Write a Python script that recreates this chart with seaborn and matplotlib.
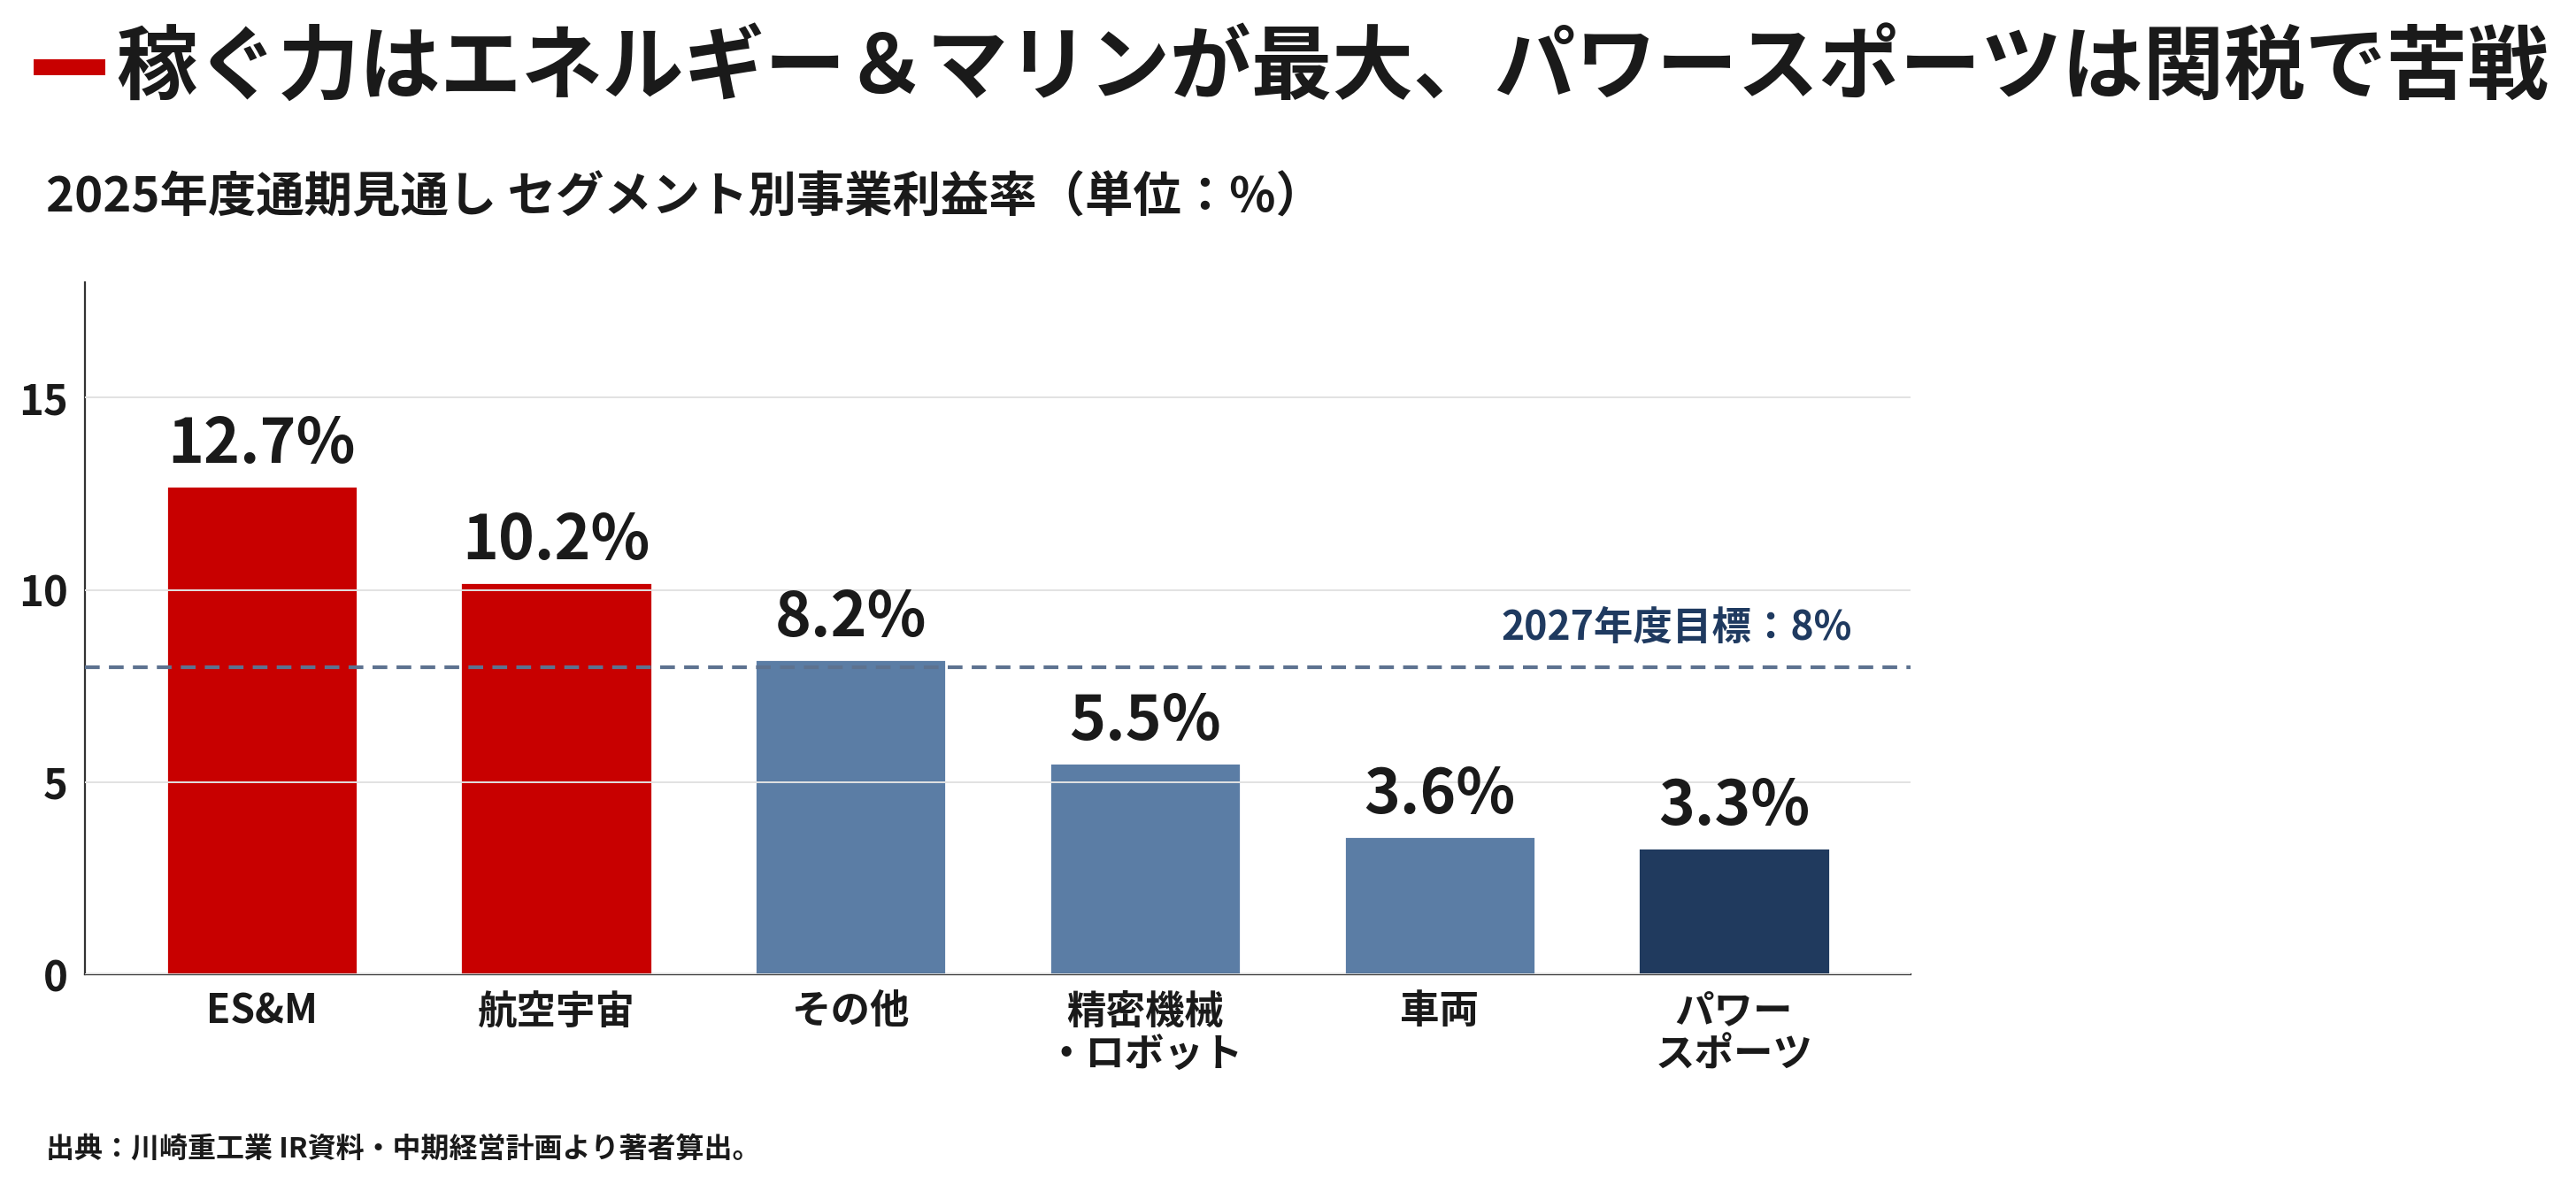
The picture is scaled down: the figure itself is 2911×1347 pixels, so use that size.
import matplotlib
matplotlib.use("Agg")
import matplotlib.pyplot as plt
from matplotlib.patches import Rectangle
import seaborn as sns
import pandas as pd

# data
segments = ["ES&M", "航空宇宙", "その他", "精密機械\n・ロボット", "車両", "パワー\nスポーツ"]
margins = [12.7, 10.2, 8.2, 5.5, 3.6, 3.3]
bar_colors = ["#c80000", "#c80000", "#5b7da5", "#5b7da5", "#5b7da5", "#203a5e"]
target = 8.0
yticks = [0, 5, 10, 15]

title = "稼ぐ力はエネルギー＆マリンが最大、パワースポーツは関税で苦戦"
subtitle = "2025年度通期見通し セグメント別事業利益率（単位：%）"
target_label = "2027年度目標：8%"
source = "出典：川崎重工業 IR資料・中期経営計画より著者算出。"

sns.set_style("white")
plt.rcParams["font.family"] = ["Noto Sans CJK JP", "DejaVu Sans"]
plt.rcParams["text.color"] = "#1a1a1a"

df = pd.DataFrame({"segment": segments, "margin": margins})

fig = plt.figure(figsize=(14.555, 6.735), dpi=200)
ax = fig.add_axes([0.033, 0.1826, 0.7087, 0.5805])

sns.barplot(data=df, x="segment", y="margin", hue="segment",
            palette=dict(zip(segments, bar_colors)), width=0.65,
            saturation=1, legend=False, ax=ax)

# value labels on top of bars
for cont in ax.containers:
    ax.bar_label(cont, labels=[f"{v:.1f}%" for v in cont.datavalues],
                 padding=4, fontsize=25, fontweight="bold", color="#1a1a1a")

# target line
ax.axhline(target, color="#5d7290", linewidth=1.5, dashes=(4, 2.5), zorder=3)
ax.text(5.4, target + 1.0, target_label, ha="right", va="center",
        fontsize=16, fontweight="bold", color="#1f3a60")

ax.set_xlim(-0.6, 5.6)
ax.set_ylim(0, 18)
ax.set_yticks(yticks)
ax.set_xlabel("")
ax.set_ylabel("")
ax.yaxis.grid(True, color="#e2e2e2", linewidth=0.7)
ax.set_axisbelow(False)

for side in ["top", "right"]:
    ax.spines[side].set_visible(False)
for side in ["left", "bottom"]:
    ax.spines[side].set_color("#333333")
    ax.spines[side].set_linewidth(0.8)

ax.tick_params(axis="both", length=3, width=0.8, color="#333333")
ax.tick_params(axis="y", labelsize=17, labelcolor="#1a1a1a", pad=4)
ax.tick_params(axis="x", labelsize=16, labelcolor="#1a1a1a", pad=4)
for lab in ax.get_yticklabels() + ax.get_xticklabels():
    lab.set_fontweight("bold")
for lab in ax.get_xticklabels():
    lab.set_linespacing(1.1)

# title block
fig.patches.append(Rectangle((0.013, 0.937), 0.028, 0.013, transform=fig.transFigure,
                             facecolor="#c80000", edgecolor="none"))
fig.text(0.045, 0.942, title, ha="left", va="center", fontsize=33, fontweight="bold")
fig.text(0.018, 0.834, subtitle, ha="left", va="center", fontsize=19.6, fontweight="bold")
fig.text(0.018, 0.036, source, ha="left", va="center", fontsize=11.5, fontweight="bold")

fig.savefig("out.png", dpi=200, facecolor="white")
